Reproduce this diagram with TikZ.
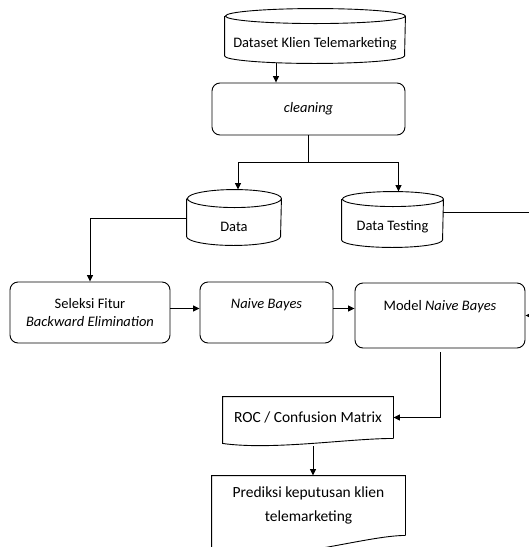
\documentclass[tikz,border=0pt]{standalone}
\usepackage{fontspec}
\setmainfont{Carlito}
\usetikzlibrary{arrows.meta,positioning,calc}
% tabung: node, x radius, y radius
\newcommand{\tabung}[3]{%
  \draw ([yshift=#3]#1.north west) -- ([yshift=#3]#1.south west)
    arc[start angle=180,end angle=360,x radius=#2,y radius=#3]
    -- ([yshift=#3]#1.north east)
    arc[start angle=0,end angle=360,x radius=#2,y radius=#3];
  \coordinate (#1-atas) at ([yshift=2*#3]#1.north);}

\begin{document}
\begin{tikzpicture}[x=1pt,y=-1pt,line width=0.9pt,
  every node/.style={font=\fontsize{14.5}{18}\selectfont},
  proses/.style={draw,rounded corners=8pt,align=center,inner sep=0pt},
  db/.style={align=center,inner sep=0pt},
  dok/.style={align=center,inner sep=0pt},
  panah/.style={-{Triangle[length=6.5pt,width=6pt]}}]
\useasboundingbox (0,0) rectangle (529,547);

% data
\node[db,minimum width=180pt,minimum height=39pt] (dataset) at (315,43.5) {Dataset Klien Telemarketing};
\tabung{dataset}{90pt}{7.5pt}
\node[proses,minimum width=193pt,minimum height=52pt] (cleaning) at (308.5,109) {\textit{cleaning}};
\node[db,minimum width=94pt,minimum height=37pt] (data) at (234,226.5) {Data};
\tabung{data}{47pt}{9pt}
\node[db,minimum width=101pt,minimum height=40pt] (testing) at (392.5,227) {Data Testing};
\tabung{testing}{50.5pt}{7.5pt}

% proses
\node[proses,minimum width=160pt,minimum height=61pt] (seleksi) at (90,312.5) {Seleksi Fitur\\\textit{Backward Elimination}};
\node[proses,minimum width=133pt,minimum height=61pt] (naive) at (266.5,312.5) {\textit{Naive Bayes}\\\mbox{}};
\node[proses,minimum width=170pt,minimum height=65pt] (model) at (440,315.5) {Model \textit{Naive Bayes}\\[3pt]\mbox{}};

% hasil
\node[dok,minimum width=170pt,minimum height=41pt,font=\fontsize{15.5}{24}\selectfont] (roc) at (308,417.5) {ROC / Confusion Matrix};
\node[dok,minimum width=193pt,minimum height=59pt,font=\fontsize{15.5}{24}\selectfont] (prediksi) at (308.5,505.5) {Prediksi keputusan klien\\telemarketing};
\draw (roc.south east) -- (roc.north east) -- (roc.north west) -- ([yshift=-5pt]roc.south west)
  .. controls +(50,7) and +(-45,0) .. (roc.south east);
\draw (prediksi.south east) -- (prediksi.north east) -- (prediksi.north west) -- ([yshift=-20pt]prediksi.south west)
  .. controls +(70,8) and +(-40,0) .. (prediksi.south east);

% alur
\draw[panah] ([xshift=-39pt]dataset.south) -- ([xshift=-39pt]dataset.south |- cleaning.north);
\draw (cleaning.south) -- ++(0,27) coordinate (cabang);
\draw[panah] (cabang) -| ([xshift=4pt]data-atas);
\draw[panah] (cabang) -| ([xshift=6pt]testing-atas);
\draw[panah] ([yshift=8pt]data.west) -| (seleksi.north);
\draw[panah] ([yshift=15pt]testing.east) -- ++(95,0) |- (model.east);
\draw[panah] ([yshift=4pt]seleksi.east) -- ([yshift=4pt]naive.west);
\draw[panah] ([yshift=4pt]naive.east) -- ([yshift=4pt]naive.east -| model.west);
\draw[panah] ([yshift=-4pt]model.south) |- (roc.east);
\draw[panah] ([xshift=5pt,yshift=-8pt]roc.south) -- ([xshift=5pt]roc.south |- prediksi.north);
\end{tikzpicture}
\end{document}
